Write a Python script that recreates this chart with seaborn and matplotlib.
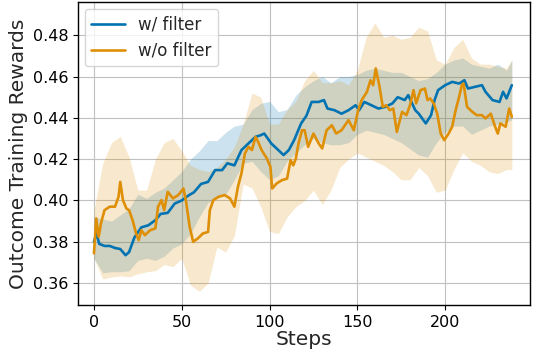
import numpy as np
import pandas as pd
import seaborn as sns
import matplotlib.pyplot as plt

# mean curve, w/ filter
steps_filter = [0, 1.5, 3, 6, 9, 12, 15, 18, 20, 23, 27, 31, 35, 38, 42, 46, 50, 54, 57, 61,
                65, 69, 73, 76, 80, 84, 88, 92, 95, 97, 101, 105, 108, 111, 114, 118, 121, 124,
                128, 131, 133, 137, 141, 145, 149, 151, 154, 158, 162, 166, 170, 173, 177, 179,
                183, 185, 189, 192, 194, 196, 200, 204, 208, 211, 213, 217, 221, 223, 227, 231,
                233, 235, 238]
reward_filter = [0.380, 0.384, 0.379, 0.378, 0.378, 0.377, 0.3765, 0.3735, 0.375, 0.382, 0.387,
                 0.388, 0.3905, 0.3935, 0.394, 0.3985, 0.400, 0.4025, 0.404, 0.408, 0.409, 0.4147,
                 0.4147, 0.418, 0.417, 0.4244, 0.4276, 0.4308, 0.4316, 0.4324, 0.4276, 0.4244,
                 0.422, 0.4244, 0.4292, 0.4373, 0.441, 0.4477, 0.4477, 0.4486, 0.4445, 0.4437,
                 0.442, 0.4437, 0.4461, 0.4437, 0.4477, 0.4461, 0.4445, 0.4453, 0.447, 0.450,
                 0.4486, 0.451, 0.4437, 0.442, 0.4373, 0.4413, 0.4486, 0.4534, 0.4558, 0.4574,
                 0.4566, 0.4582, 0.4542, 0.455, 0.4558, 0.4526, 0.4486, 0.4477, 0.4526, 0.4494,
                 0.4558]

# mean curve, w/o filter
steps_nofilter = [0, 1.3, 2.7, 4, 6, 9, 12, 14, 15, 16.5, 18.5, 20, 22, 24, 25.5, 27, 29, 32, 35,
                  36.5, 38.5, 40, 42, 45, 48, 51, 52.5, 54.5, 56.5, 59, 62, 65, 66, 68, 71, 74.5,
                  77.5, 80, 82, 84, 86, 88, 90, 92, 93.5, 95.5, 98.5, 100.5, 101.5, 104, 107, 110,
                  112, 113.5, 115, 116.5, 118.5, 120, 122, 125, 128, 130, 132.5, 135.5, 138, 141,
                  145, 148, 150.5, 152.5, 155.5, 157.5, 159, 160.5, 162.5, 164.5, 166.5, 168.5,
                  170.5, 172.5, 175.5, 178, 180, 182, 183.5, 186, 188.5, 190, 191.5, 193.5, 195.5,
                  197.5, 199.5, 202, 204, 206, 208, 209.5, 210.5, 212.5, 215.5, 218, 221, 223, 226,
                  228.5, 230, 231.5, 234.5, 236.5, 238]
reward_nofilter = [0.3744, 0.3913, 0.3824, 0.3889, 0.3953, 0.397, 0.397, 0.4018, 0.409, 0.4002,
                   0.3961, 0.3953, 0.3905, 0.384, 0.3808, 0.3856, 0.3832, 0.3856, 0.3865, 0.397,
                   0.4002, 0.3953, 0.4042, 0.401, 0.4026, 0.4058, 0.3993, 0.3873, 0.380, 0.3815,
                   0.384, 0.3848, 0.3953, 0.4002, 0.4018, 0.4026, 0.401, 0.397, 0.4066, 0.4131,
                   0.4228, 0.426, 0.4244, 0.4308, 0.4284, 0.4244, 0.4203, 0.4163, 0.4058, 0.4082,
                   0.4098, 0.4106, 0.4195, 0.417, 0.4203, 0.4276, 0.434, 0.434, 0.426, 0.4324,
                   0.4276, 0.4252, 0.434, 0.4364, 0.4324, 0.434, 0.4389, 0.434, 0.4437, 0.4486,
                   0.4526, 0.4582, 0.4558, 0.4639, 0.4558, 0.4453, 0.4461, 0.4437, 0.4445, 0.4332,
                   0.4429, 0.4413, 0.4461, 0.4534, 0.447, 0.4534, 0.4542, 0.4486, 0.4494, 0.447,
                   0.442, 0.4324, 0.4292, 0.4324, 0.4357, 0.4437, 0.4502, 0.4558, 0.4566, 0.4453,
                   0.4429, 0.4413, 0.4413, 0.4397, 0.442, 0.4357, 0.4324, 0.4373, 0.4357, 0.4445,
                   0.4405]

# shaded bands
band_steps = [0, 5, 10, 15, 20, 25, 30, 35, 40, 45, 50, 55, 60, 65, 70, 75, 80, 85, 90, 95, 100,
              105, 110, 115, 120, 125, 130, 135, 140, 145, 150, 155, 160, 165, 170, 175, 180, 185,
              190, 195, 200, 205, 210, 215, 220, 225, 230, 235, 238]
filter_upper = [0.392, 0.391, 0.390, 0.393, 0.396, 0.403, 0.401, 0.404, 0.406, 0.410, 0.414, 0.420,
                0.424, 0.429, 0.429, 0.433, 0.436, 0.437, 0.444, 0.447, 0.448, 0.443, 0.444, 0.451,
                0.455, 0.458, 0.460, 0.457, 0.460, 0.460, 0.461, 0.463, 0.464, 0.463, 0.462, 0.462,
                0.460, 0.458, 0.459, 0.462, 0.466, 0.468, 0.469, 0.466, 0.465, 0.464, 0.466, 0.463,
                0.468]
filter_lower = [0.372, 0.365, 0.3655, 0.3655, 0.366, 0.371, 0.372, 0.371, 0.373, 0.377, 0.379,
                0.384, 0.392, 0.399, 0.401, 0.403, 0.410, 0.418, 0.419, 0.414, 0.410, 0.412, 0.419,
                0.423, 0.427, 0.430, 0.428, 0.427, 0.427, 0.428, 0.432, 0.434, 0.433, 0.432, 0.430,
                0.428, 0.425, 0.422, 0.421, 0.428, 0.433, 0.436, 0.436, 0.432, 0.434, 0.436, 0.437,
                0.438, 0.439]
nofilter_upper = [0.395, 0.418, 0.428, 0.431, 0.421, 0.405, 0.405, 0.420, 0.428, 0.430, 0.424,
                  0.417, 0.415, 0.414, 0.416, 0.420, 0.426, 0.437, 0.452, 0.450, 0.437, 0.437,
                  0.444, 0.448, 0.458, 0.463, 0.457, 0.457, 0.458, 0.456, 0.463, 0.479, 0.486,
                  0.479, 0.480, 0.478, 0.479, 0.484, 0.482, 0.468, 0.466, 0.474, 0.478, 0.469,
                  0.466, 0.466, 0.465, 0.464, 0.468]
nofilter_lower = [0.372, 0.362, 0.363, 0.3635, 0.363, 0.3645, 0.3655, 0.366, 0.369, 0.368, 0.372,
                  0.359, 0.356, 0.360, 0.3775, 0.375, 0.383, 0.408, 0.406, 0.397, 0.385, 0.384,
                  0.392, 0.397, 0.400, 0.405, 0.398, 0.405, 0.416, 0.420, 0.423, 0.421, 0.419,
                  0.417, 0.414, 0.410, 0.410, 0.416, 0.412, 0.404, 0.405, 0.415, 0.423, 0.419,
                  0.417, 0.414, 0.413, 0.415, 0.415]

labels = ['w/ filter', 'w/o filter']

sns.set_style("whitegrid", {"axes.edgecolor": "black", "grid.color": "#c0c0c0",
                            "xtick.bottom": True, "ytick.left": True})
colors = sns.color_palette("colorblind")[:2]

df = pd.concat([
    pd.DataFrame({'Steps': steps_filter, 'reward': reward_filter, 'method': labels[0]}),
    pd.DataFrame({'Steps': steps_nofilter, 'reward': reward_nofilter, 'method': labels[1]}),
])

fig, ax = plt.subplots(figsize=(5.34, 3.58), dpi=100)
fig.subplots_adjust(left=0.146, right=0.993, top=0.994, bottom=0.148)

ax.fill_between(band_steps, filter_lower, filter_upper, color=colors[0], alpha=0.2, lw=0)
ax.fill_between(band_steps, nofilter_lower, nofilter_upper, color=colors[1], alpha=0.2, lw=0)
sns.lineplot(data=df, x='Steps', y='reward', hue='method', palette=colors,
             linewidth=1.9, errorbar=None, ax=ax)

ax.set_xlim(-9.1, 248.5)
ax.set_ylim(0.3494, 0.496)
ax.set_xticks([0, 50, 100, 150, 200])
ax.set_yticks([0.36, 0.38, 0.40, 0.42, 0.44, 0.46, 0.48])
ax.tick_params(labelsize=11.5, length=3.5, width=0.8, colors='black')
ax.set_xlabel('Steps', fontsize=14.5, labelpad=0)
ax.set_ylabel('Outcome Training Rewards', fontsize=14.5, labelpad=3)
for s in ax.spines.values():
    s.set_linewidth(1.0)

ax.legend(loc='upper left', fontsize=12, frameon=True, borderaxespad=0.4)

plt.savefig('out.png', dpi=100)
